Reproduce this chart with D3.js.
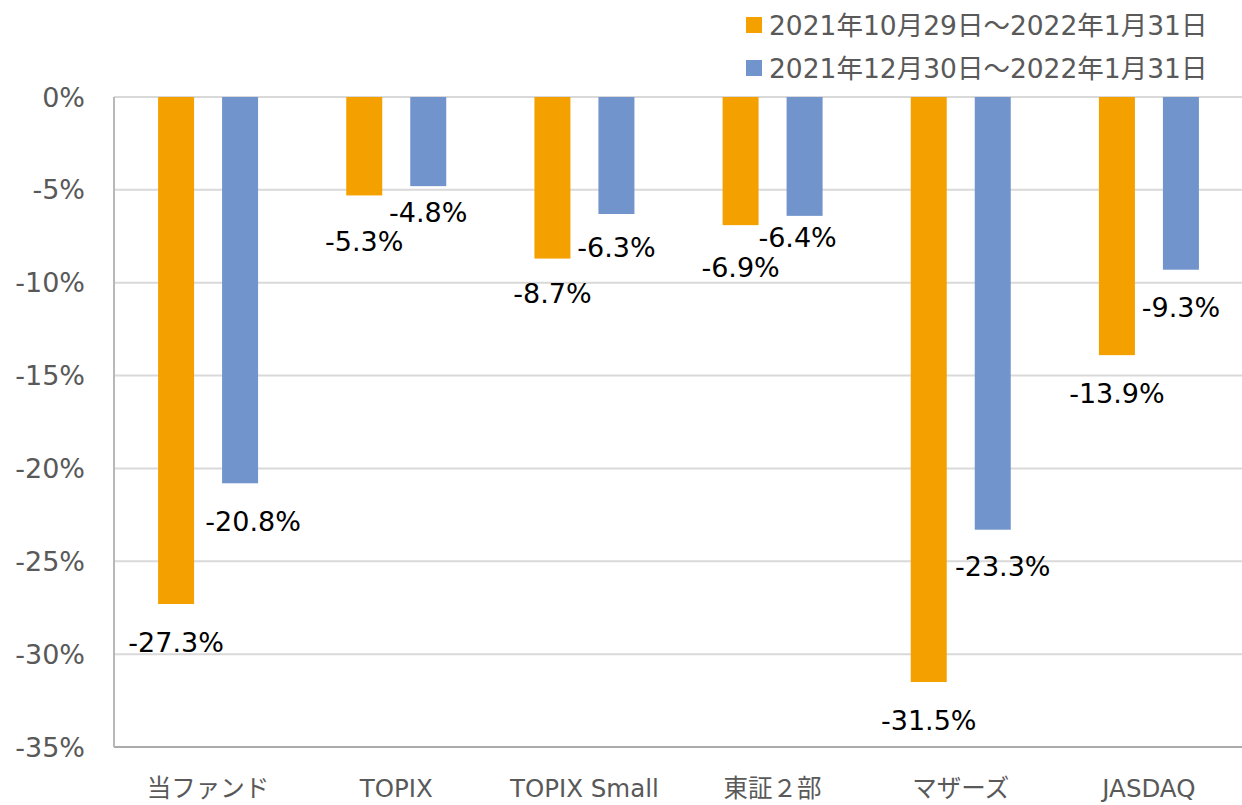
<!DOCTYPE html>
<html>
<head>
<meta charset="utf-8">
<script src="https://cdn.jsdelivr.net/npm/d3@7"></script>
<style>
  body { margin: 0; background: #fff; }
  svg text { font-family: "DejaVu Sans", "Noto Sans CJK JP", sans-serif; }
</style>
</head>
<body>
<div id="chart"></div>
<script>
"use strict";

const categories = ["当ファンド", "TOPIX", "TOPIX Small", "東証２部", "マザーズ", "JASDAQ"];
const seriesNames = ["2021年10月29日～2022年1月31日", "2021年12月30日～2022年1月31日"];
const seriesOct = [-27.3, -5.3, -8.7, -6.9, -31.5, -13.9];
const seriesDec = [-20.8, -4.8, -6.3, -6.4, -23.3, -9.3];
const yTicks = [0, -5, -10, -15, -20, -25, -30, -35];

const colors = ["#F4A100", "#7094CB"];
// hand placed label nudges [dx, dy] like in the original sheet
const nudgeOct = [[0, 0], [0, 8], [0, -3], [0, 4], [0, 0], [0, 0]];
const nudgeDec = [[13, 0], [0, -12], [0, -5], [-7, -16], [10, -1], [0, 0]];

const width = 1242, height = 805;
const margin = {top: 97, right: -1, bottom: 58, left: 114};

const svg = d3.select("#chart")
    .append("svg")
    .attr("width", width)
    .attr("height", height);

const x0 = d3.scaleBand()
    .domain(categories)
    .range([margin.left, width - margin.right]);

const bw = x0.bandwidth();
const x1 = d3.scaleBand()
    .domain([0, 1])
    .range([bw / 2 - 50, bw / 2 + 50])
    .paddingInner(0.4375)
    .paddingOuter(0);

const y = d3.scaleLinear()
    .domain([-35, 0])
    .range([height - margin.bottom, margin.top]);

// gridlines
svg.append("g")
    .selectAll("line")
    .data(yTicks)
    .enter()
    .append("line")
    .attr("x1", margin.left)
    .attr("x2", width)
    .attr("y1", d => y(d))
    .attr("y2", d => y(d))
    .style("stroke", d => d === -35 ? "#ababab" : "#d9d9d9")
    .style("stroke-width", 2);

// left axis line
svg.append("line")
    .attr("x1", margin.left)
    .attr("x2", margin.left)
    .attr("y1", y(0))
    .attr("y2", y(-35))
    .style("stroke", "#b8b8b8")
    .style("stroke-width", 2);

// y tick labels
svg.append("g")
    .selectAll("text")
    .data(yTicks)
    .enter()
    .append("text")
    .attr("x", 85)
    .attr("y", d => y(d))
    .attr("text-anchor", "end")
    .attr("dominant-baseline", "central")
    .style("font-size", "27px")
    .style("fill", "#595959")
    .text(d => d + "%");

// category labels
svg.append("g")
    .selectAll("text")
    .data(categories)
    .enter()
    .append("text")
    .attr("x", d => x0(d) + bw / 2)
    .attr("y", 797)
    .attr("text-anchor", "middle")
    .style("font-size", "24.5px")
    .style("fill", "#595959")
    .text(d => d);

const series = [seriesOct, seriesDec];
const nudges = [nudgeOct, nudgeDec];

series.forEach((vals, s) => {
  const g = svg.append("g");
  g.selectAll("rect")
      .data(vals)
      .enter()
      .append("rect")
      .attr("x", (d, i) => x0(categories[i]) + x1(s))
      .attr("y", y(0))
      .attr("width", x1.bandwidth())
      .attr("height", d => y(d) - y(0))
      .style("fill", colors[s]);

  g.selectAll("text")
      .data(vals)
      .enter()
      .append("text")
      .attr("x", (d, i) => x0(categories[i]) + x1(s) + x1.bandwidth() / 2 + nudges[s][i][0])
      .attr("y", (d, i) => y(d) + 38 + nudges[s][i][1])
      .attr("text-anchor", "middle")
      .attr("dominant-baseline", "central")
      .style("font-size", "27px")
      .style("fill", "#000000")
      .text(d => d.toFixed(1) + "%");
});

// legend
const legend = svg.append("g")
    .selectAll("g")
    .data(seriesNames)
    .enter()
    .append("g")
    .attr("transform", (d, i) => "translate(746," + (25 + i * 43) + ")");

legend.append("rect")
    .attr("x", 0)
    .attr("y", -8)
    .attr("width", 16)
    .attr("height", 16)
    .style("fill", (d, i) => colors[i]);

legend.append("text")
    .attr("x", 23)
    .attr("y", 0)
    .attr("dominant-baseline", "central")
    .style("font-size", "26.5px")
    .style("fill", "#595959")
    .text(d => d);
</script>
</body>
</html>
